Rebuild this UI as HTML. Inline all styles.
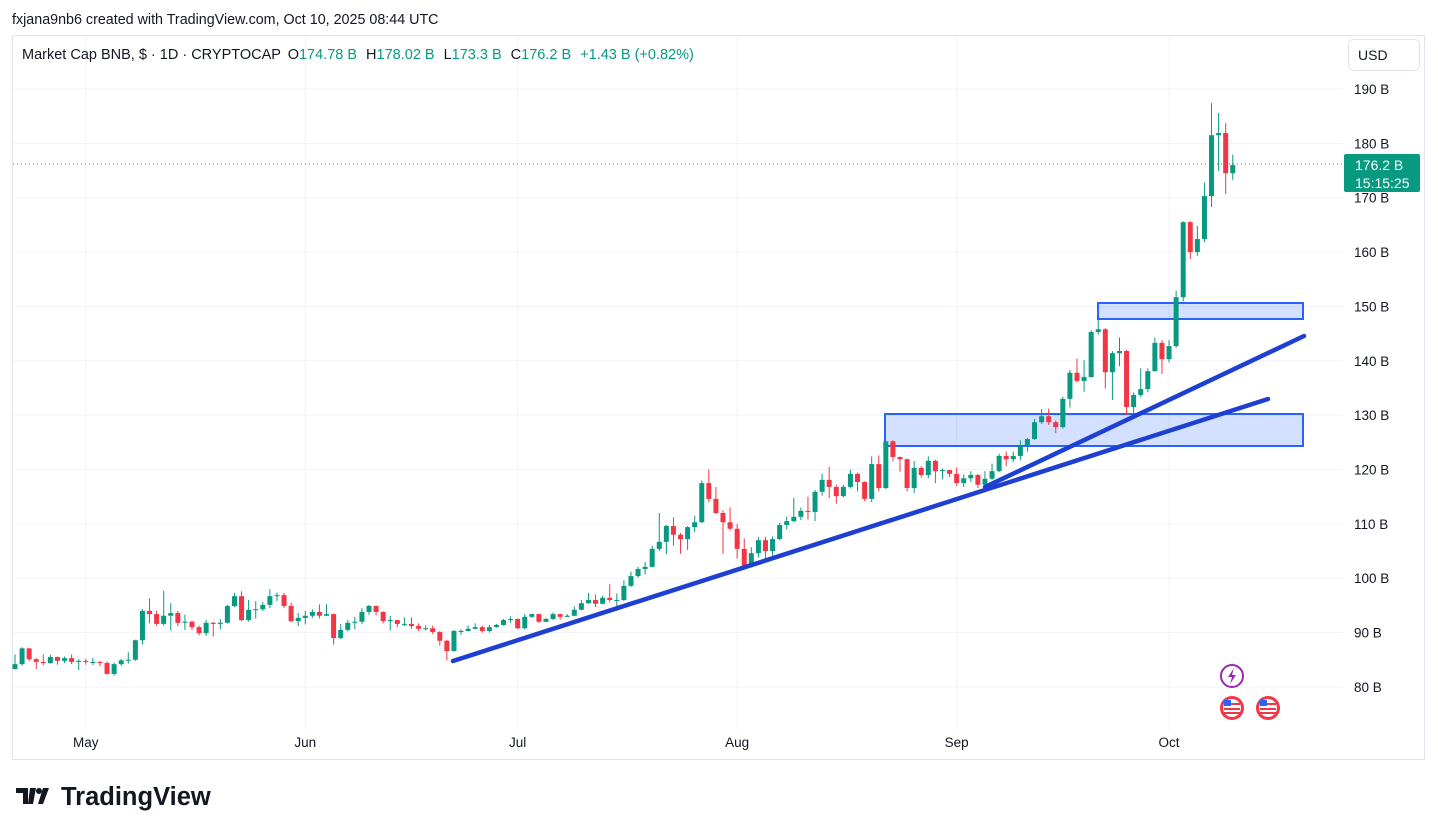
<!DOCTYPE html>
<html><head><meta charset="utf-8">
<style>
body{margin:0;width:1438px;height:834px;background:#fff;overflow:hidden;font-family:"Liberation Sans",sans-serif;}
svg{position:absolute;left:0;top:0}
</style></head>
<body>
<svg id="chart" width="1438" height="834">
<text x="12" y="24" font-size="14.3" fill="#131722">fxjana9nb6 created with TradingView.com, Oct 10, 2025 08:44 UTC</text>
<rect x="12.5" y="35.5" width="1412" height="724" fill="none" stroke="#e0e3eb"/>
<g id="grid"></g>
<g id="drawings-under"></g>
<g id="candles"></g>
<g id="drawings"></g>
<g id="yaxis"></g>
<g id="xaxis"></g>
<text x="22" y="59" font-size="14.5" fill="#131722">Market Cap BNB, $ · 1D · CRYPTOCAP <tspan dx="3">O</tspan><tspan fill="#089981">174.78 B</tspan><tspan dx="9">H</tspan><tspan fill="#089981">178.02 B</tspan><tspan dx="9">L</tspan><tspan fill="#089981">173.3 B</tspan><tspan dx="9">C</tspan><tspan fill="#089981">176.2 B</tspan><tspan dx="9" fill="#089981">+1.43 B (+0.82%)</tspan></text>
<g><rect x="1348.5" y="39.5" width="71" height="31" rx="5" fill="#fff" stroke="#e0e3eb"/><text x="1358" y="60" font-size="14" fill="#131722">USD</text></g>
<g>
<path d="M16 788h12v16h-5v-11h-7z M30 788h6l-3 16h-5z" fill="#131722"/><circle cx="39" cy="791" r="3" fill="#131722"/><path d="M43 788h6l-6 16h-5z" fill="#131722"/>
<text x="61" y="805" font-size="25.5" font-weight="bold" fill="#131722">TradingView</text></g>
</svg>
<script>
const NS='http://www.w3.org/2000/svg';
const closes=[84.2,87.1,85.1,84.6,84.4,85.5,84.8,85.3,84.6,84.8,84.6,84.6,84.4,82.4,84.2,84.9,85.0,88.6,94.0,93.4,91.6,93.1,93.6,91.8,92.0,91.0,89.9,91.8,91.6,91.8,94.9,96.7,92.3,94.2,94.3,95.1,96.7,96.9,94.9,92.1,92.7,93.1,93.8,93.1,93.4,89.0,90.5,91.8,92.0,93.8,94.9,93.8,92.1,92.3,91.6,91.6,91.2,90.7,90.8,90.1,88.5,86.6,90.3,90.3,90.7,91.0,90.3,91.0,91.4,92.3,92.5,90.8,92.9,93.4,92.0,92.5,93.4,92.9,93.1,94.2,95.4,96.0,95.3,96.4,96.0,96.0,98.6,100.4,101.7,102.1,105.4,106.7,109.6,108.0,107.2,109.4,110.3,117.5,114.6,112.0,110.3,109.1,105.4,102.3,104.6,107.0,105.0,107.2,109.8,110.5,111.3,112.4,112.2,115.9,118.1,116.8,115.1,116.8,119.2,117.7,114.6,121.0,116.6,125.2,122.3,121.9,116.6,120.3,119.0,121.6,119.7,119.9,119.2,117.5,118.4,119.0,117.2,118.3,119.7,122.5,121.9,122.5,124.3,125.6,128.7,129.8,128.7,127.8,133.0,137.8,136.3,137.0,145.3,145.8,137.9,141.4,141.8,131.5,133.7,134.8,138.1,143.3,140.3,142.7,151.7,165.5,160.0,162.4,170.3,181.5,181.9,174.5,176.0];
const highs=[86.0,87.3,87.2,85.3,86.0,85.9,85.6,85.6,86.0,85.1,85.2,85.3,84.8,84.7,84.5,85.2,86.4,88.7,94.3,96.3,94.0,97.7,95.4,94.0,93.3,92.2,91.3,92.3,92.0,92.5,95.1,97.3,97.6,96.0,95.8,95.6,98.0,97.4,97.3,95.5,93.6,94.0,94.3,95.2,95.2,93.5,91.6,92.3,92.9,94.5,95.1,95.0,93.9,93.1,92.3,92.8,92.8,91.7,91.3,91.3,90.3,88.7,90.5,90.6,91.3,91.7,91.3,91.4,91.6,92.5,93.0,92.6,93.4,93.5,93.5,92.7,93.7,93.5,93.4,94.8,96.0,97.3,97.0,96.8,98.9,97.2,99.6,101.2,102.1,103.0,106.0,112.0,109.8,111.2,108.3,109.6,111.5,118.0,120.0,116.8,112.5,113.0,110.0,107.3,105.7,107.6,107.6,107.7,110.2,111.3,114.8,113.0,115.0,116.2,119.2,120.5,117.2,117.2,120.0,119.4,117.8,122.4,122.6,125.3,125.4,122.4,122.0,121.6,120.6,122.4,121.8,120.2,119.9,120.4,119.1,119.7,119.2,119.7,121.1,122.9,123.3,123.3,125.4,125.8,129.3,131.1,131.2,129.0,133.4,138.3,140.4,140.1,145.6,147.6,146.0,141.8,144.3,142.0,134.2,138.6,138.6,144.3,143.8,143.8,152.9,165.7,165.7,164.8,172.8,187.4,185.6,183.7,177.9];
const lows=[83.2,83.9,84.7,83.3,84.0,84.3,84.1,84.4,84.2,83.1,84.1,84.0,83.8,82.3,82.1,83.9,84.3,84.8,87.8,91.7,91.2,91.3,90.4,91.2,90.5,90.5,89.5,89.4,89.3,90.6,91.7,94.7,92.1,92.0,92.6,94.0,94.5,95.8,94.5,91.9,91.2,91.5,92.7,92.6,93.0,87.8,88.8,90.2,90.6,91.6,93.3,93.2,91.7,90.4,91.0,91.2,90.7,90.3,90.4,89.7,87.6,84.9,86.5,89.6,90.2,90.6,90.0,90.0,90.9,91.3,91.8,90.6,90.6,92.7,91.8,91.9,92.3,92.4,92.9,93.0,94.1,95.3,94.7,95.2,95.6,94.0,95.8,98.4,100.1,100.7,102.0,105.0,104.4,106.0,104.5,105.2,108.5,110.2,114.0,111.8,104.5,108.8,103.6,101.6,102.0,103.8,103.5,103.6,107.0,109.0,110.3,110.7,110.8,110.5,115.2,114.7,113.7,114.9,116.5,116.0,114.2,114.0,116.0,116.4,121.5,119.6,116.0,115.7,118.5,118.4,117.5,118.2,118.6,117.0,116.8,117.7,116.6,116.4,118.1,119.5,120.6,121.4,121.7,123.3,125.5,128.4,128.2,126.7,127.5,131.4,136.0,134.3,136.9,144.8,134.9,132.8,139.0,130.0,130.0,133.3,134.2,138.0,137.6,139.7,142.4,150.9,158.7,159.3,161.8,168.3,174.9,170.7,173.3];
const firstOpen=83.3;
const priceTicks=[190,180,170,160,150,140,130,120,110,100,90,80];
const monthLabels=['May','Jun','Jul','Aug','Sep','Oct'];
const monthIndex=[10,41,71,102,133,163];
const lastPrice=176.2;

const X0=15, DX=7.08;
function xs(i){return X0+i*DX;}
function ys(p){return 89+(190-p)*5.436;}
function mk(tag,attrs,parent){const e=document.createElementNS(NS,tag);for(const k in attrs)e.setAttribute(k,attrs[k]);parent.appendChild(e);return e;}

const grid=document.getElementById('grid');
const yax=document.getElementById('yaxis');
priceTicks.forEach(p=>{
  const l=mk('line',{x1:13,x2:1343,y1:ys(p),y2:ys(p),stroke:'#f0f3fa'},grid);
  
  
  const t=mk('text',{x:1354,y:ys(p)+5,'font-size':13.5,fill:'#131722'},yax);
  t.textContent=p+' B';
  
  
});
const xax=document.getElementById('xaxis');
monthLabels.forEach((m,k)=>{
  const x=xs(monthIndex[k]);
  const l=mk('line',{x1:x,x2:x,y1:36,y2:730,stroke:'#f0f3fa'},grid);
  
  
  const t=mk('text',{x:x,y:747,'font-size':13.5,fill:'#131722','text-anchor':'middle'},xax);
  t.textContent=m;
  
  
});

const cg=document.getElementById('candles');
closes.forEach((c,i)=>{
  const o=i===0?firstOpen:closes[i-1];
  const col=c>=o?'#089981':'#f23645';
  const x=xs(i);
  const g=mk('g',{},cg);
  
  
  mk('line',{x1:x,x2:x,y1:ys(highs[i]),y2:ys(lows[i]),stroke:col,'stroke-width':1},g);
  const top=ys(Math.max(o,c)),bot=ys(Math.min(o,c));
  mk('rect',{x:x-2.5,y:top,width:5,height:Math.max(1,bot-top),fill:col},g);
});

const ly=ys(lastPrice);
const pl=mk('line',{x1:13,x2:1343,y1:ly,y2:ly,stroke:'#089981','stroke-dasharray':'1 3'},yax);


const lb=mk('g',{},yax);


mk('rect',{x:1344,y:ly-10,width:76,height:38,rx:2,fill:'#089981'},lb);
mk('text',{x:1355,y:ly+6,'font-size':14,fill:'#fff'},lb).textContent=lastPrice+' B';
mk('text',{x:1355,y:ly+24,'font-size':14,fill:'#fff'},lb).textContent='15:15:25';

const dg=document.getElementById('drawings');
const du=document.getElementById('drawings-under');
const r1=mk('rect',{x:885,y:414,width:418,height:32,fill:'rgba(41,98,255,0.2)',stroke:'#2962ff','stroke-width':2},du);


const r2=mk('rect',{x:1098,y:303,width:205,height:16,fill:'rgba(41,98,255,0.2)',stroke:'#2962ff','stroke-width':2},du);


const t1=mk('line',{x1:453,y1:661,x2:1268,y2:399,stroke:'#1e40d2','stroke-width':4.5,'stroke-linecap':'round'},dg);


const t2=mk('line',{x1:985,y1:487,x2:1304,y2:336,stroke:'#1e40d2','stroke-width':4.5,'stroke-linecap':'round'},dg);



const ev=mk('g',{},dg);


mk('circle',{cx:1232,cy:676,r:11,fill:'#fff',stroke:'#9c27b0','stroke-width':2},ev);
mk('path',{d:'M1234 668l-6 9h4l-2 7 6-9h-4z',fill:'#9c27b0'},ev);
[1232,1268].forEach(cx=>{
  mk('circle',{cx:cx,cy:708,r:12,fill:'#f23645'},ev);
  mk('circle',{cx:cx,cy:708,r:9,fill:'#fff'},ev);
  mk('rect',{x:cx-8,y:703,width:16,height:2,fill:'#f23645'},ev);
  mk('rect',{x:cx-8,y:708,width:16,height:2,fill:'#f23645'},ev);
  mk('rect',{x:cx-8,y:712,width:16,height:2,fill:'#f23645'},ev);
  mk('rect',{x:cx-8,y:700,width:7,height:6,fill:'#2962ff'},ev);
});
</script>
</body></html>
